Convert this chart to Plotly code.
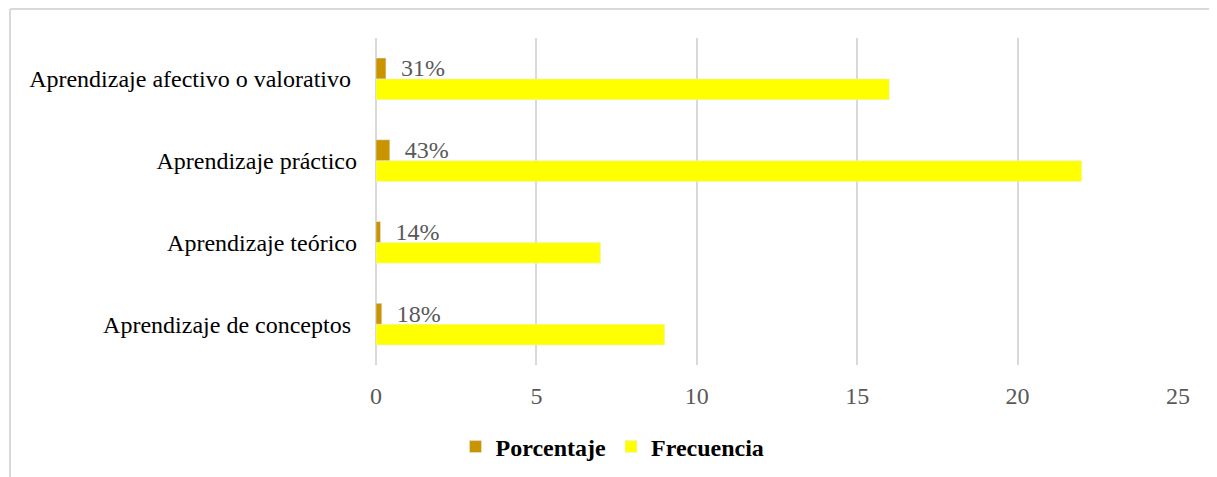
import plotly.graph_objects as go

categorias = ["Aprendizaje de conceptos\u00a0", "Aprendizaje teórico",
              "Aprendizaje práctico", "Aprendizaje afectivo o valorativo\u00a0"]
frecuencia = [9, 7, 22, 16]
porcentaje = [0.18, 0.14, 0.43, 0.31]
etiquetas = ["18%", "14%", "43%", "31%"]

# page body has an 8px margin, so the figure is a bit smaller than the window
W, H = 1209, 469
ml, mr, mt, mb = 368, 39, 30, 112
fuente = "Liberation Serif, Times New Roman, serif"

fig = go.Figure()
# frecuencia first so it sits below porcentaje inside each group
fig.add_trace(go.Bar(y=categorias, x=frecuencia, orientation="h", name="Frecuencia",
                     marker_color="#FFFF00"))
fig.add_trace(go.Bar(y=categorias, x=porcentaje, orientation="h", name="Porcentaje",
                     marker_color="#C99400",
                     text=["  " + e for e in etiquetas], textposition="outside",
                     constraintext="none",
                     textfont=dict(family=fuente, size=24, color="#595959"),
                     cliponaxis=False))

# light frame of the original chart area (cropped at right/bottom)
pw, ph = W - ml - mr, H - mt - mb
fx = (2 - ml) / pw
fy = (H - mb - 1) / ph
fig.add_shape(type="line", xref="paper", yref="paper", x0=fx, x1=2, y0=fy, y1=fy,
              line=dict(color="#D9D9D9", width=2))
fig.add_shape(type="line", xref="paper", yref="paper", x0=fx, x1=fx, y0=fy, y1=-1,
              line=dict(color="#D9D9D9", width=2))

fig.update_layout(
    width=W, height=H,
    margin=dict(l=ml, r=mr, t=mt, b=mb, autoexpand=False),
    paper_bgcolor="white", plot_bgcolor="white",
    barmode="group", bargap=0.49, bargroupgap=0,
    font=dict(family=fuente, size=24, color="black"),
    showlegend=True,
    legend=dict(orientation="h", x=0.5, xanchor="center", xref="container",
                y=0.064, yanchor="middle", yref="container",
                traceorder="reversed", itemwidth=30,
                font=dict(family=fuente, size=24, color="black", weight="bold")),
    xaxis=dict(range=[0, 25], dtick=5, showgrid=True, gridcolor="#D9D9D9", gridwidth=1.5,
               zeroline=True, zerolinecolor="#D9D9D9", zerolinewidth=1.5,
               tickfont=dict(color="#595959", size=24), ticklabelstandoff=14),
    yaxis=dict(showgrid=False, ticklabelstandoff=18, tickfont=dict(size=24, color="black")),
)

fig.write_html("out.html")
